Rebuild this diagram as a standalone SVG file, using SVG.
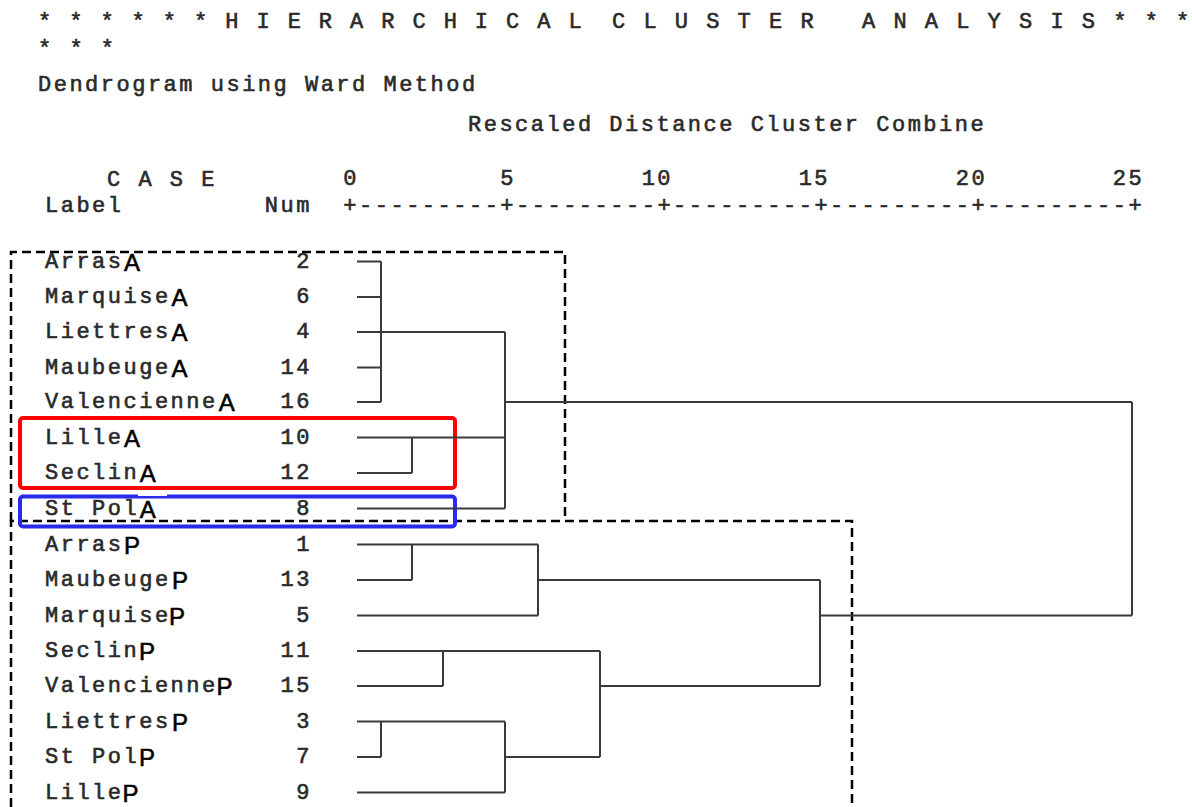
<svg xmlns="http://www.w3.org/2000/svg" width="1192" height="807" viewBox="0 0 1192 807">
<style>
.m{font-family:"Liberation Mono","DejaVu Sans Mono",monospace;font-size:22px;letter-spacing:2.5px;fill:#2a2a2a;stroke:#2a2a2a;stroke-width:0.6px}
.s{font-family:"Liberation Sans",Arial,sans-serif;font-size:24px;fill:#000;stroke:#000;stroke-width:0.6px}
.ln{fill:none;stroke:#3a3a3a;stroke-width:2}
.dash{fill:none;stroke:#000;stroke-width:2.5;stroke-dasharray:9 5}
</style>
<rect width="1192" height="807" fill="#fff"/>
<g id="header">
<text class="m" x="38" y="28" style="letter-spacing:2.4px">* * * * * * H I E R A R C H I C A L</text>
<text class="m" x="612" y="28">C L U S T E R</text>
<text class="m" x="862" y="28">A N A L Y S I S * * *</text>
<text class="m" x="38" y="55">* * *</text>
<text class="m" x="38" y="91">Dendrogram using Ward Method</text>
<text class="m" x="468" y="131">Rescaled Distance Cluster Combine</text>
<text class="m" x="107" y="186">C A S E</text>
<text class="m" x="343.3" y="185" xml:space="preserve">0         5        10        15        20        25</text>
<text class="m" x="45" y="212" xml:space="preserve">Label         Num  +---------+---------+---------+---------+---------+</text>
</g>
<g id="boxes">
<path class="dash" d="M11,521 V252 H565 V521"/>
<path class="dash" d="M11,807 V521 H852 V807"/>
<rect x="20" y="418" width="435" height="70" rx="3" fill="none" stroke="#ff0000" stroke-width="4"/>
<rect x="20" y="496.5" width="435" height="30" rx="3" fill="none" stroke="#2a2aee" stroke-width="4"/>
<rect x="138" y="493" width="29" height="3" fill="#fff"/>
</g>
<g id="leaf-arras-a"><text class="m" x="45" y="267.5">Arras</text><text class="s" x="124" y="270.5">A</text><text class="m" x="296.2" y="267.5">2</text></g>
<g id="leaf-marquise-a"><text class="m" x="45" y="303">Marquise</text><text class="s" x="171.6" y="306">A</text><text class="m" x="296.2" y="303">6</text></g>
<g id="leaf-liettres-a"><text class="m" x="45" y="338">Liettres</text><text class="s" x="171.6" y="341">A</text><text class="m" x="296.2" y="338">4</text></g>
<g id="leaf-maubeuge-a"><text class="m" x="45" y="373.5">Maubeuge</text><text class="s" x="171.6" y="376.5">A</text><text class="m" x="280.5" y="373.5">14</text></g>
<g id="leaf-valencienne-a"><text class="m" x="45" y="408">Valencienne</text><text class="s" x="218.7" y="411">A</text><text class="m" x="280.5" y="408">16</text></g>
<g id="leaf-lille-a"><text class="m" x="45" y="443.5">Lille</text><text class="s" x="124" y="446.5">A</text><text class="m" x="280.5" y="443.5">10</text></g>
<g id="leaf-seclin-a"><text class="m" x="45" y="479">Seclin</text><text class="s" x="139.7" y="482">A</text><text class="m" x="280.5" y="479">12</text></g>
<g id="leaf-stpol-a"><text class="m" x="45" y="514.5">St Pol</text><text class="s" x="139.7" y="517.5">A</text><text class="m" x="296.2" y="514.5">8</text></g>
<g id="leaf-arras-p"><text class="m" x="45" y="550.5">Arras</text><text class="s" x="124" y="553.5">P</text><text class="m" x="296.2" y="550.5">1</text></g>
<g id="leaf-maubeuge-p"><text class="m" x="45" y="586">Maubeuge</text><text class="s" x="172" y="589">P</text><text class="m" x="280.5" y="586">13</text></g>
<g id="leaf-marquise-p"><text class="m" x="45" y="621.5">Marquise</text><text class="s" x="169" y="624.5">P</text><text class="m" x="296.2" y="621.5">5</text></g>
<g id="leaf-seclin-p"><text class="m" x="45" y="657">Seclin</text><text class="s" x="139" y="660">P</text><text class="m" x="280.5" y="657">11</text></g>
<g id="leaf-valencienne-p"><text class="m" x="45" y="692">Valencienne</text><text class="s" x="216.5" y="695">P</text><text class="m" x="280.5" y="692">15</text></g>
<g id="leaf-liettres-p"><text class="m" x="45" y="727.5">Liettres</text><text class="s" x="172" y="730.5">P</text><text class="m" x="296.2" y="727.5">3</text></g>
<g id="leaf-stpol-p"><text class="m" x="45" y="763">St Pol</text><text class="s" x="139" y="766">P</text><text class="m" x="296.2" y="763">7</text></g>
<g id="leaf-lille-p"><text class="m" x="45" y="798.5">Lille</text><text class="s" x="122.5" y="801.5">P</text><text class="m" x="296.2" y="798.5">9</text></g>
<g id="connectors" class="ln">
<path d="M357,261.5 H381 M357,297 H381 M357,367.5 H381 M357,402 H381 M381,261.5 V402 M357,332 H505"/>
<path d="M357,437.5 H505 M357,473 H412 M412,437.5 V473"/>
<path d="M357,508.5 H505 M505,332 V508.5 M505,402 H1132"/>
<path d="M357,544.5 H538 M357,580 H412 M412,544.5 V580 M357,615.5 H538 M538,544.5 V615.5 M538,580 H820"/>
<path d="M357,651 H600 M357,686 H443 M443,651 V686"/>
<path d="M357,721.5 H505 M357,757 H381 M381,721.5 V757 M357,792.5 H505 M505,721.5 V792.5 M505,757 H600"/>
<path d="M600,651 V757 M600,686 H820 M820,580 V686 M820,615.5 H1132 M1132,402 V615.5"/>
</g>
</svg>
